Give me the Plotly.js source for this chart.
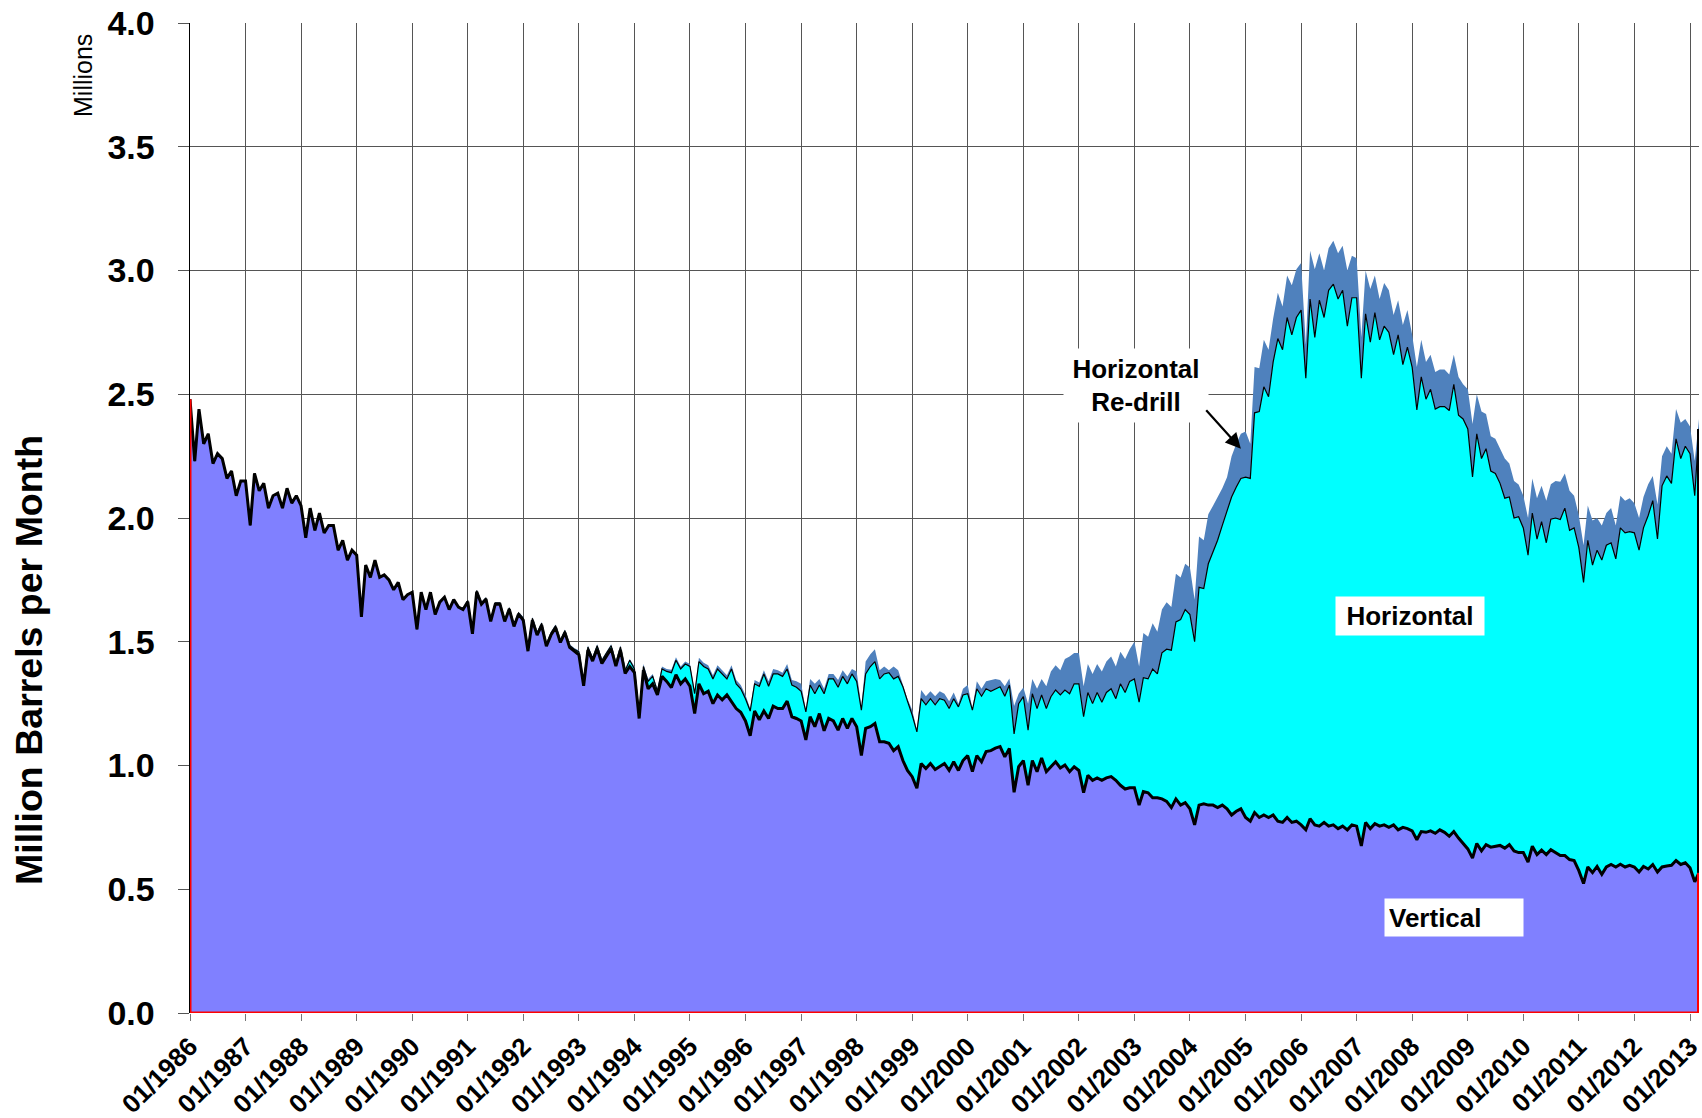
<!DOCTYPE html>
<html>
<head>
<meta charset="utf-8">
<script src="https://cdn.plot.ly/plotly-3.0.1.min.js"></script>
<style>
  html, body { margin: 0; padding: 0; background: #ffffff; }
  #chart { width: 1702px; height: 1118px; }
</style>
</head>
<body>
<div id="chart"></div>
<script>
// ---------------- DATA (million barrels per month, monthly from 01/1986) ----------------
const startYear = 1986;

// Vertical wells production (level of the vertical area)
const vertical = [
  2.48, 2.23, 2.44, 2.30, 2.34, 2.22, 2.26, 2.24, 2.16, 2.19, 2.09, 2.15, // 1986
  2.15, 1.97, 2.18, 2.11, 2.14, 2.04, 2.09, 2.10, 2.04, 2.12, 2.06, 2.09, // 1987
  2.05, 1.92, 2.04, 1.95, 2.02, 1.94, 1.97, 1.97, 1.87, 1.91, 1.83, 1.87, // 1988
  1.85, 1.60, 1.81, 1.76, 1.83, 1.76, 1.77, 1.75, 1.71, 1.74, 1.67, 1.69, // 1989
  1.70, 1.55, 1.70, 1.63, 1.70, 1.61, 1.66, 1.68, 1.63, 1.67, 1.64, 1.63, // 1990
  1.662, 1.532, 1.702, 1.652, 1.672, 1.582, 1.652, 1.652, 1.582, 1.632, 1.562, 1.612, // 1991
  1.587, 1.462, 1.587, 1.527, 1.567, 1.482, 1.527, 1.557, 1.497, 1.537, 1.477, 1.462, // 1992
  1.447, 1.322, 1.467, 1.422, 1.472, 1.412, 1.442, 1.472, 1.402, 1.467, 1.372, 1.400, // 1993
  1.375, 1.19, 1.385, 1.31, 1.33, 1.285, 1.36, 1.34, 1.315, 1.367, 1.33, 1.35, // 1994
  1.32, 1.21, 1.33, 1.29, 1.30, 1.25, 1.285, 1.265, 1.285, 1.26, 1.23, 1.215, // 1995
  1.18, 1.12, 1.22, 1.185, 1.22, 1.19, 1.24, 1.23, 1.23, 1.26, 1.197, 1.19, // 1996
  1.18, 1.103, 1.197, 1.157, 1.21, 1.14, 1.19, 1.18, 1.143, 1.19, 1.15, 1.19, // 1997
  1.157, 1.04, 1.15, 1.157, 1.17, 1.096, 1.096, 1.09, 1.06, 1.076, 1.02, 0.98, // 1998
  0.955, 0.908, 1.008, 0.988, 1.008, 0.984, 0.995, 1.008, 0.98, 1.015, 0.98, 1.02, // 1999
  1.04, 0.975, 1.04, 1.015, 1.056, 1.06, 1.07, 1.076, 1.035, 1.069, 0.892, 0.995, // 2000
  1.02, 0.92, 1.02, 0.975, 1.03, 0.975, 0.995, 1.015, 0.99, 1.002, 0.975, 0.995, // 2001
  0.98, 0.89, 0.96, 0.94, 0.95, 0.94, 0.95, 0.955, 0.94, 0.92, 0.905, 0.91, // 2002
  0.91, 0.84, 0.895, 0.89, 0.87, 0.87, 0.865, 0.855, 0.83, 0.865, 0.84, 0.85, // 2003
  0.825, 0.76, 0.84, 0.845, 0.84, 0.84, 0.83, 0.84, 0.825, 0.80, 0.815, 0.825, // 2004
  0.79, 0.775, 0.81, 0.79, 0.80, 0.79, 0.80, 0.775, 0.77, 0.79, 0.77, 0.775, // 2005
  0.76, 0.74, 0.785, 0.76, 0.755, 0.77, 0.755, 0.76, 0.745, 0.755, 0.74, 0.76, // 2006
  0.755, 0.675, 0.77, 0.745, 0.765, 0.755, 0.76, 0.75, 0.76, 0.74, 0.75, 0.745, // 2007
  0.736, 0.70, 0.733, 0.73, 0.736, 0.726, 0.74, 0.73, 0.714, 0.733, 0.707, 0.685, // 2008
  0.663, 0.626, 0.685, 0.655, 0.68, 0.67, 0.674, 0.677, 0.666, 0.68, 0.655, 0.648, // 2009
  0.648, 0.61, 0.674, 0.64, 0.658, 0.64, 0.66, 0.648, 0.636, 0.636, 0.62, 0.616, // 2010
  0.575, 0.523, 0.59, 0.567, 0.592, 0.56, 0.59, 0.60, 0.59, 0.601, 0.59, 0.597, // 2011
  0.59, 0.57, 0.592, 0.582, 0.60, 0.57, 0.59, 0.594, 0.597, 0.616, 0.60, 0.607, // 2012
  0.587, 0.53, 0.567 // 2013
];

// Vertical + Horizontal (top of the horizontal area)
const horizontalTop = [
  2.48, 2.23, 2.44, 2.30, 2.34, 2.22, 2.26, 2.24, 2.16, 2.19, 2.09, 2.15, // 1986
  2.15, 1.97, 2.18, 2.11, 2.14, 2.04, 2.09, 2.10, 2.04, 2.12, 2.06, 2.09, // 1987
  2.05, 1.92, 2.04, 1.95, 2.02, 1.94, 1.97, 1.97, 1.87, 1.91, 1.83, 1.87, // 1988
  1.85, 1.60, 1.81, 1.76, 1.83, 1.76, 1.77, 1.75, 1.71, 1.74, 1.67, 1.69, // 1989
  1.70, 1.55, 1.70, 1.63, 1.70, 1.61, 1.66, 1.68, 1.63, 1.67, 1.64, 1.63, // 1990
  1.667, 1.537, 1.707, 1.657, 1.677, 1.587, 1.657, 1.657, 1.587, 1.637, 1.567, 1.617, // 1991
  1.595, 1.470, 1.595, 1.535, 1.575, 1.490, 1.535, 1.565, 1.505, 1.545, 1.485, 1.470, // 1992
  1.459, 1.334, 1.479, 1.434, 1.484, 1.424, 1.454, 1.484, 1.414, 1.479, 1.384, 1.425, // 1993
  1.39, 1.20, 1.40, 1.34, 1.36, 1.30, 1.39, 1.38, 1.375, 1.425, 1.39, 1.41, // 1994
  1.40, 1.29, 1.42, 1.40, 1.39, 1.35, 1.39, 1.37, 1.35, 1.39, 1.33, 1.31, // 1995
  1.27, 1.22, 1.33, 1.32, 1.37, 1.32, 1.37, 1.37, 1.36, 1.39, 1.325, 1.316, // 1996
  1.30, 1.217, 1.325, 1.29, 1.325, 1.29, 1.35, 1.35, 1.316, 1.36, 1.33, 1.37, // 1997
  1.34, 1.224, 1.37, 1.40, 1.42, 1.35, 1.37, 1.375, 1.35, 1.36, 1.318, 1.26, // 1998
  1.204, 1.136, 1.27, 1.245, 1.27, 1.245, 1.27, 1.264, 1.23, 1.27, 1.237, 1.285, // 1999
  1.29, 1.224, 1.31, 1.28, 1.31, 1.30, 1.31, 1.318, 1.28, 1.325, 1.128, 1.25, // 2000
  1.278, 1.143, 1.29, 1.23, 1.285, 1.23, 1.278, 1.305, 1.285, 1.305, 1.29, 1.33, // 2001
  1.33, 1.197, 1.295, 1.25, 1.295, 1.256, 1.295, 1.31, 1.27, 1.33, 1.295, 1.34, // 2002
  1.35, 1.256, 1.355, 1.35, 1.39, 1.37, 1.455, 1.47, 1.466, 1.58, 1.59, 1.63, // 2003
  1.61, 1.50, 1.72, 1.715, 1.815, 1.86, 1.91, 1.97, 2.03, 2.085, 2.125, 2.16, // 2004
  2.165, 2.16, 2.425, 2.43, 2.53, 2.49, 2.63, 2.725, 2.68, 2.81, 2.74, 2.81, // 2005
  2.84, 2.565, 2.885, 2.73, 2.88, 2.81, 2.92, 2.945, 2.885, 2.92, 2.775, 2.89, // 2006
  2.89, 2.565, 2.825, 2.71, 2.83, 2.72, 2.775, 2.75, 2.66, 2.74, 2.62, 2.69, // 2007
  2.61, 2.437, 2.57, 2.48, 2.52, 2.44, 2.45, 2.45, 2.434, 2.54, 2.415, 2.40, // 2008
  2.36, 2.166, 2.34, 2.24, 2.28, 2.19, 2.18, 2.14, 2.08, 2.085, 2.0, 2.005, // 2009
  1.96, 1.85, 2.02, 1.915, 1.985, 1.90, 1.995, 2.0, 1.994, 2.04, 1.95, 1.96, // 2010
  1.88, 1.74, 1.91, 1.81, 1.87, 1.83, 1.89, 1.90, 1.835, 1.96, 1.94, 1.945, // 2011
  1.94, 1.87, 1.96, 2.01, 2.07, 1.915, 2.13, 2.17, 2.14, 2.32, 2.24, 2.29, // 2012
  2.26, 2.09, 2.36 // 2013
];

// Vertical + Horizontal + Horizontal Re-drill (top of the whole stack)
const totalTop = [
  2.48, 2.23, 2.44, 2.30, 2.34, 2.22, 2.26, 2.24, 2.16, 2.19, 2.09, 2.15, // 1986
  2.15, 1.97, 2.18, 2.11, 2.14, 2.04, 2.09, 2.10, 2.04, 2.12, 2.06, 2.09, // 1987
  2.05, 1.92, 2.04, 1.95, 2.02, 1.94, 1.97, 1.97, 1.87, 1.91, 1.83, 1.87, // 1988
  1.85, 1.60, 1.81, 1.76, 1.83, 1.76, 1.77, 1.75, 1.71, 1.74, 1.67, 1.69, // 1989
  1.70, 1.55, 1.70, 1.63, 1.70, 1.61, 1.66, 1.68, 1.63, 1.67, 1.64, 1.63, // 1990
  1.67, 1.54, 1.71, 1.66, 1.68, 1.59, 1.66, 1.66, 1.59, 1.64, 1.57, 1.62, // 1991
  1.60, 1.475, 1.60, 1.54, 1.58, 1.495, 1.54, 1.57, 1.51, 1.55, 1.49, 1.475, // 1992
  1.465, 1.34, 1.485, 1.44, 1.49, 1.43, 1.46, 1.49, 1.42, 1.485, 1.39, 1.43, // 1993
  1.40, 1.205, 1.41, 1.35, 1.37, 1.31, 1.40, 1.39, 1.387, 1.437, 1.40, 1.42, // 1994
  1.41, 1.30, 1.435, 1.415, 1.405, 1.365, 1.405, 1.385, 1.365, 1.405, 1.345, 1.325, // 1995
  1.285, 1.23, 1.345, 1.335, 1.385, 1.34, 1.39, 1.385, 1.375, 1.41, 1.345, 1.34, // 1996
  1.33, 1.224, 1.35, 1.33, 1.35, 1.31, 1.37, 1.37, 1.345, 1.385, 1.36, 1.39, // 1997
  1.38, 1.237, 1.42, 1.45, 1.47, 1.385, 1.40, 1.385, 1.40, 1.385, 1.325, 1.27, // 1998
  1.224, 1.143, 1.305, 1.28, 1.30, 1.28, 1.30, 1.29, 1.26, 1.295, 1.25, 1.31, // 1999
  1.325, 1.23, 1.34, 1.31, 1.34, 1.345, 1.35, 1.345, 1.32, 1.352, 1.24, 1.29, // 2000
  1.315, 1.25, 1.35, 1.31, 1.35, 1.32, 1.38, 1.405, 1.385, 1.43, 1.44, 1.455, // 2001
  1.455, 1.32, 1.41, 1.37, 1.41, 1.38, 1.42, 1.44, 1.40, 1.46, 1.43, 1.47, // 2002
  1.50, 1.40, 1.535, 1.52, 1.575, 1.54, 1.63, 1.66, 1.64, 1.775, 1.76, 1.815, // 2003
  1.80, 1.67, 1.925, 1.91, 2.015, 2.05, 2.085, 2.12, 2.165, 2.25, 2.30, 2.34, // 2004
  2.35, 2.30, 2.61, 2.605, 2.72, 2.68, 2.805, 2.91, 2.855, 2.98, 2.94, 3.005, // 2005
  3.03, 2.70, 3.08, 3.005, 3.07, 3.0, 3.09, 3.12, 3.07, 3.10, 3.0, 3.06, // 2006
  3.05, 2.73, 3.0, 2.925, 2.98, 2.885, 2.95, 2.92, 2.82, 2.88, 2.78, 2.84, // 2007
  2.74, 2.61, 2.72, 2.63, 2.66, 2.59, 2.60, 2.60, 2.58, 2.66, 2.57, 2.54, // 2008
  2.52, 2.38, 2.50, 2.43, 2.42, 2.33, 2.32, 2.28, 2.24, 2.22, 2.15, 2.135, // 2009
  2.09, 2.0, 2.16, 2.08, 2.13, 2.07, 2.136, 2.15, 2.146, 2.18, 2.11, 2.09, // 2010
  2.01, 1.89, 2.05, 1.99, 2.0, 1.97, 2.02, 2.04, 1.97, 2.09, 2.07, 2.08, // 2011
  2.06, 2.0, 2.085, 2.136, 2.17, 2.055, 2.25, 2.29, 2.26, 2.44, 2.385, 2.40, // 2012
  2.37, 2.23, 2.40 // 2013
];

const yearTicks = [1986, 1987, 1988, 1989, 1990, 1991, 1992, 1993, 1994, 1995, 1996, 1997, 1998, 1999,
                   2000, 2001, 2002, 2003, 2004, 2005, 2006, 2007, 2008, 2009, 2010, 2011, 2012, 2013];
const yTicks = [0, 0.5, 1.0, 1.5, 2.0, 2.5, 3.0, 3.5, 4.0];

// ---------------- derived ----------------
const months = vertical.map((_, i) => {
  const y = startYear + Math.floor(i / 12);
  const m = (i % 12) + 1;
  return y + '-' + String(m).padStart(2, '0') + '-01';
});
const last = months.length - 1;
const horizontal = horizontalTop.map((v, i) => +(v - vertical[i]).toFixed(4));
const redrill = totalTop.map((v, i) => +(v - horizontalTop[i]).toFixed(4));
const tickDates = yearTicks.map(y => y + '-01-01');
const tickText = yearTicks.map(y => '01/' + y);

const FONT = 'Liberation Sans, Arial, Helvetica, sans-serif';

const traces = [
  { x: months, y: vertical, type: 'scatter', mode: 'lines', stackgroup: 'prod', name: 'Vertical',
    fillcolor: '#8080FF', line: { color: '#000000', width: 3 } },
  { x: months, y: horizontal, type: 'scatter', mode: 'lines', stackgroup: 'prod', name: 'Horizontal',
    fillcolor: '#00FFFF', line: { color: '#000000', width: 1.2 } },
  { x: months, y: redrill, type: 'scatter', mode: 'lines', stackgroup: 'prod', name: 'Horizontal Re-drill',
    fillcolor: '#4F81BD', line: { color: '#4F81BD', width: 0 } },
  // area outlines (bottom / edges)
  { x: [months[0], months[last]], y: [0, 0], type: 'scatter', mode: 'lines',
    line: { color: '#FF0000', width: 3 } },
  { x: [months[0], months[0]], y: [0, vertical[0]], type: 'scatter', mode: 'lines',
    line: { color: '#FF0000', width: 3 } },
  { x: [months[last], months[last]], y: [0, vertical[last]], type: 'scatter', mode: 'lines',
    line: { color: '#FF0000', width: 4 } },
  { x: [months[last], months[last]], y: [vertical[last], horizontalTop[last]], type: 'scatter', mode: 'lines',
    line: { color: '#000000', width: 4 } }
];

const layout = {
  width: 1702, height: 1118,
  margin: { l: 190, r: 3, t: 23, b: 105 },
  paper_bgcolor: '#ffffff', plot_bgcolor: '#ffffff',
  showlegend: false, hovermode: false,
  font: { family: FONT, color: '#000000' },
  xaxis: {
    type: 'date',
    range: [months[0], months[last]],
    tickmode: 'array', tickvals: tickDates, ticktext: tickText,
    tickangle: -45,
    ticklabeloverflow: 'allow',
    ticks: 'outside', ticklen: 7, tickcolor: '#777777', tickwidth: 1,
    showgrid: true, gridcolor: '#555555', gridwidth: 1,
    showline: false, zeroline: false,
    tickfont: { family: FONT, size: 26, color: '#000000', weight: 'bold' }
  },
  yaxis: {
    range: [0, 4],
    tickmode: 'array', tickvals: yTicks, tickformat: '.1f',
    ticks: 'outside', ticklen: 11, tickcolor: '#555555', tickwidth: 1,
    ticklabelstandoff: 16,
    showgrid: true, gridcolor: '#555555', gridwidth: 1,
    showline: true, linecolor: '#000000', linewidth: 1.5,
    zeroline: false,
    tickfont: { family: FONT, size: 34, color: '#000000', weight: 'bold' }
  },
  annotations: [
    { xref: 'paper', yref: 'paper', x: -0.1067, y: 0.3566, xanchor: 'center', yanchor: 'middle',
      text: 'Million Barrels per Month', textangle: -90, showarrow: false,
      font: { family: FONT, size: 37.5, color: '#000000', weight: 'bold' } },
    { xref: 'paper', yref: 'paper', x: -0.0709, y: 0.9465, xanchor: 'center', yanchor: 'middle',
      text: 'Millions', textangle: -90, showarrow: false,
      font: { family: FONT, size: 25, color: '#000000' } },
    // label box for the re-drill band
    { xref: 'paper', yref: 'paper', x: 0.6267, y: 0.6335, xanchor: 'center', yanchor: 'middle',
      text: 'Horizontal<br>Re-drill', showarrow: false,
      bgcolor: '#ffffff', width: 136, height: 65, borderpad: 4,
      font: { family: FONT, size: 26, color: '#000000', weight: 'bold' } },
    // arrow pointing at the re-drill band
    { xref: 'x', yref: 'y', x: '2004-12-01', y: 2.28, ax: -36, ay: -40,
      text: '', showarrow: true, arrowhead: 2, arrowsize: 1.4, arrowwidth: 2.2,
      arrowcolor: '#000000', standoff: 0, startstandoff: 0 },
    { xref: 'paper', yref: 'paper', x: 0.8085, y: 0.401, xanchor: 'center', yanchor: 'middle',
      text: 'Horizontal', showarrow: false, bgcolor: '#ffffff', width: 140, height: 30, borderpad: 4,
      font: { family: FONT, size: 26, color: '#000000', weight: 'bold' } },
    { xref: 'paper', yref: 'paper', x: 0.7913, y: 0.0965, xanchor: 'left', yanchor: 'middle',
      text: 'Vertical', showarrow: false, bgcolor: '#ffffff', width: 130, height: 29, borderpad: 4,
      align: 'left',
      font: { family: FONT, size: 26, color: '#000000', weight: 'bold' } }
  ]
};

Plotly.newPlot('chart', traces, layout, { displayModeBar: false, staticPlot: true });
</script>
</body>
</html>
